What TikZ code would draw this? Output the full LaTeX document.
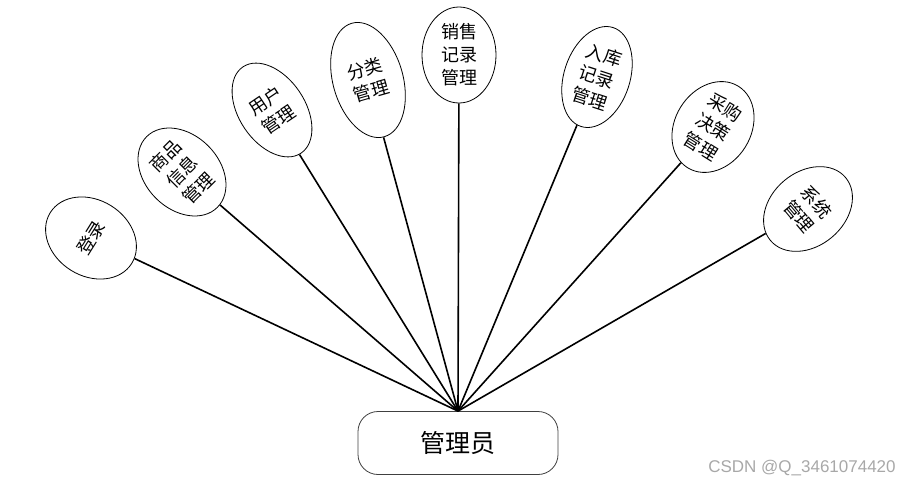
\documentclass[tikz,border=0pt]{standalone}
\usepackage{fontspec}
\setmainfont{Noto Sans CJK SC}
\newfontfamily\marksans{Liberation Sans}
\usetikzlibrary{shapes.geometric}
\definecolor{EdgeGray}{HTML}{404040}
\definecolor{MarkGray}{HTML}{A8A8A8}

\begin{document}
\begin{tikzpicture}[x=1pt,y=-1pt,
  topic/.style={draw,ellipse,line width=0.8pt,inner sep=0pt,align=center,font=\fontsize{18}{23}\selectfont},
  spoke/.style={line width=1.6pt}]
  \useasboundingbox (0,0) rectangle (916,487);
  % the role at the bottom
  \node[draw=EdgeGray,rounded corners=20pt,line width=0.8pt,minimum width=200pt,minimum height=63pt,font=\fontsize{25}{25}\selectfont] (admin) at (458,443) {管理员};
  % its functions
  \node[topic,minimum width=76pt,minimum height=96pt,rotate=58] (login) at (91,238) {登录};
  \node[topic,minimum width=74pt,minimum height=100pt,rotate=45] (goods) at (182,172) {商品\\信息\\管理};
  \node[topic,minimum width=66pt,minimum height=104pt,rotate=34] (users) at (272,110) {用户\\管理};
  \node[topic,minimum width=70pt,minimum height=118pt,rotate=16] (sorts) at (368,80) {分类\\管理};
  \node[topic,minimum width=74pt,minimum height=96pt] (sales) at (459,55) {销售\\记录\\管理};
  \node[topic,minimum width=66pt,minimum height=104pt,rotate=-18] (stock) at (597,77) {入库\\记录\\管理};
  \node[topic,minimum width=76pt,minimum height=96pt,rotate=-32] (buying) at (713,127) {采购\\决策\\管理};
  \node[topic,minimum width=74pt,minimum height=98pt,rotate=-50] (system) at (808,209) {系统\\管理};
  \foreach \t in {login,goods,users,sorts,sales,stock,buying,system}
    \draw[spoke] (admin.north) -- (\t);
  \node[text=MarkGray,font=\marksans\fontsize{17}{17}\selectfont] (mark) at (802,468) {CSDN @Q\_3461074420};
\end{tikzpicture}
\end{document}
